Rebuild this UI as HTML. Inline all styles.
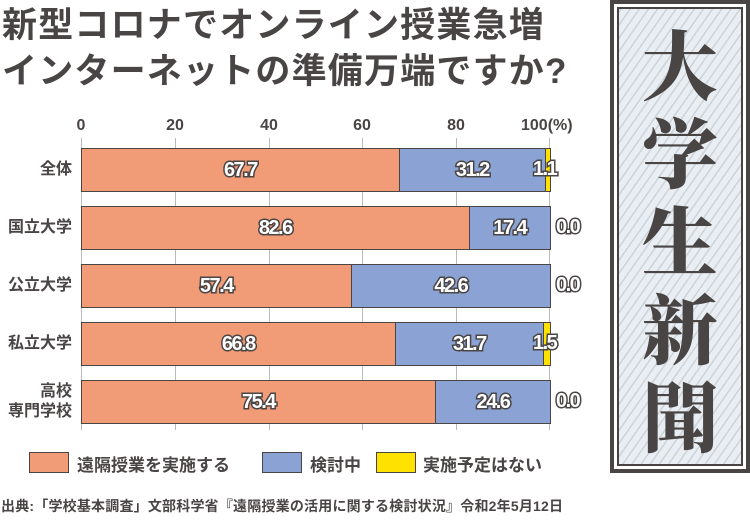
<!DOCTYPE html>
<html><head><meta charset="utf-8"><style>
body{margin:0;width:750px;height:520px;background:#fff;position:relative;overflow:hidden;font-family:"Liberation Sans","Noto Sans CJK JP",sans-serif;color:#4a4545;font-weight:bold}
.a{position:absolute;white-space:nowrap}
.t{font-size:35px;left:2px;letter-spacing:1.2px;line-height:40px}
.grid{position:absolute;top:138px;width:1px;height:292px;background:#bbb}
.bar{position:absolute;height:44px;box-sizing:border-box;border:1.5px solid #4a4545;display:flex}
.bar div{height:100%;box-sizing:border-box;display:flex;align-items:center;justify-content:center;color:#fff;font-size:20px;-webkit-text-stroke:3px #4a4545;paint-order:stroke fill;letter-spacing:-1.5px}
.o{background:#f29b77}.b{background:#8aa3d4;border-left:1.5px solid #4a4545}.y{background:#ffe100;border-left:1.5px solid #4a4545}
.tick{font-size:16px;top:117px;transform:translateX(-50%)}
.cat{font-size:16px;right:678px;text-align:right;line-height:20px}
.z{font-size:20px;color:#fff;-webkit-text-stroke:3px #4a4545;paint-order:stroke fill;letter-spacing:-1.5px;left:556px}
.sw{position:absolute;top:452px;width:40px;height:21px;box-sizing:border-box;border:1.5px solid #4a4545}
.lg{font-size:17px;top:451px}
</style></head><body>
<div class="a t" style="top:6px">新型コロナでオンライン授業急増</div>
<div class="a t" style="top:52px">インターネットの準備万端ですか?</div>

<div class="a tick" style="left:81px">0</div>
<div class="a tick" style="left:175px">20</div>
<div class="a tick" style="left:269px">40</div>
<div class="a tick" style="left:362px">60</div>
<div class="a tick" style="left:456px">80</div>
<div class="a" style="font-size:16px;top:117px;left:521px">100(%)</div>

<div class="grid" style="left:81px"></div><div class="grid" style="left:175px"></div><div class="grid" style="left:269px"></div><div class="grid" style="left:362px"></div><div class="grid" style="left:456px"></div><div class="grid" style="left:549px"></div>

<div class="bar" style="left:81px;top:148px;width:470px"><div class="o" style="width:67.7%">67.7</div><div class="b" style="width:31.2%">31.2</div><div class="y" style="width:1.1%"></div></div>
<div class="a z" style="top:158px;left:533px">1.1</div>
<div class="bar" style="left:81px;top:206px;width:470px"><div class="o" style="width:82.6%">82.6</div><div class="b" style="width:17.4%">17.4</div></div>
<div class="a z" style="top:216px">0.0</div>
<div class="bar" style="left:81px;top:264px;width:470px"><div class="o" style="width:57.4%">57.4</div><div class="b" style="width:42.6%">42.6</div></div>
<div class="a z" style="top:274px">0.0</div>
<div class="bar" style="left:81px;top:322px;width:470px"><div class="o" style="width:66.8%">66.8</div><div class="b" style="width:31.7%">31.7</div><div class="y" style="width:1.5%"></div></div>
<div class="a z" style="top:332px;left:533px">1.5</div>
<div class="bar" style="left:81px;top:380px;width:470px"><div class="o" style="width:75.4%">75.4</div><div class="b" style="width:24.6%">24.6</div></div>
<div class="a z" style="top:390px">0.0</div>

<div class="a cat" style="top:160px">全体</div>
<div class="a cat" style="top:218px">国立大学</div>
<div class="a cat" style="top:276px">公立大学</div>
<div class="a cat" style="top:334px">私立大学</div>
<div class="a cat" style="top:382px">高校<br>専門学校</div>

<div class="sw o" style="left:29px"></div><div class="a lg" style="left:77px">遠隔授業を実施する</div>
<div class="sw b" style="left:262px;border-left:1.5px solid #4a4545"></div><div class="a lg" style="left:310px">検討中</div>
<div class="sw y" style="left:376px;border-left:1.5px solid #4a4545"></div><div class="a lg" style="left:423px">実施予定はない</div>

<div class="a" style="font-size:14px;top:496px;left:1px;letter-spacing:0.2px">出典:「学校基本調査」文部科学省『遠隔授業の活用に関する検討状況』令和2年5月12日</div>

<div style="position:absolute;left:610px;top:0;width:140px;height:473px;box-sizing:border-box;border:4px solid #4a4545;background:#fff">
<div style="position:absolute;left:3px;top:3px;right:3px;bottom:3px;border:2px solid #4a4545;background:repeating-linear-gradient(-55deg,#e8eef3 0 6px,#cfd3d6 6px 7.5px)"></div>
<div style="position:absolute;left:0;right:0;top:14px;text-align:center;font-family:'Noto Serif CJK SC','Noto Sans CJK JP',serif;font-weight:900;font-size:76px;line-height:88px;color:#4a4545">大<br>学<br>生<br>新<br>聞</div>
</div>
</body></html>
